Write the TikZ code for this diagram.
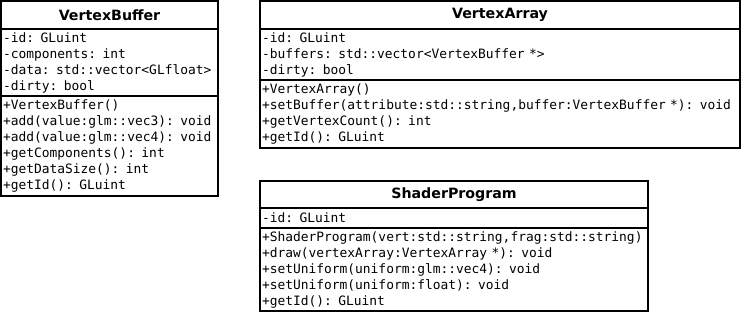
\documentclass[tikz,border=0pt]{standalone}
\usepackage{fontspec}
\setmonofont{DejaVu Sans Mono}
\setsansfont{DejaVu Sans}
\usetikzlibrary{positioning}
\tikzset{
	umlpart/.style={draw,line width=2pt,outer sep=0pt,inner xsep=2pt,inner ysep=0pt},
	umltitle/.style={umlpart,align=center,font=\sffamily\bfseries\fontsize{14.2}{16}\selectfont},
	umllist/.style={umlpart,align=left,font=\ttfamily\fontsize{12.9}{16}\selectfont},
}
\begin{document}
\begin{tikzpicture}[x=1pt,y=-1pt]
		\useasboundingbox (0,0) rectangle (743,316);
		% VertexBuffer
		\node[umltitle,anchor=north west,text width=213pt,minimum height=28pt] (vbtitle) at (1,1) {VertexBuffer};
		\node[umllist,below=0pt of vbtitle,text width=213pt,minimum height=67pt] (vbattr) {-id: GLuint\\-components: int\\-data: std::vector<GLfloat>\\-dirty: bool};
		\node[umllist,below=0pt of vbattr,text width=213pt,minimum height=100pt] (vbops) {+VertexBuffer()\\+add(value:glm::vec3): void\\+add(value:glm::vec4): void\\+getComponents(): int\\+getDataSize(): int\\+getId(): GLuint};
		% VertexArray
		\node[umltitle,anchor=north west,text width=476pt,minimum height=28pt] (vatitle) at (260,1) {VertexArray};
		\node[umllist,below=0pt of vatitle,text width=476pt,minimum height=51pt] (vaattr) {-id: GLuint\\-buffers: std::vector<VertexBuffer *>\\-dirty: bool};
		\node[umllist,below=0pt of vaattr,text width=476pt,minimum height=68pt] (vaops) {+VertexArray()\\+setBuffer(attribute:std::string,buffer:VertexBuffer *): void\\+getVertexCount(): int\\+getId(): GLuint};
		% ShaderProgram
		\node[umltitle,anchor=north west,text width=384pt,minimum height=27pt] (sptitle) at (260,181) {ShaderProgram};
		\node[umllist,below=0pt of sptitle,text width=384pt,minimum height=20pt] (spattr) {-id: GLuint};
		\node[umllist,below=0pt of spattr,text width=384pt,minimum height=83pt] (spops) {+ShaderProgram(vert:std::string,frag:std::string)\\+draw(vertexArray:VertexArray *): void\\+setUniform(uniform:glm::vec4): void\\+setUniform(uniform:float): void\\+getId(): GLuint};
\end{tikzpicture}
\end{document}
